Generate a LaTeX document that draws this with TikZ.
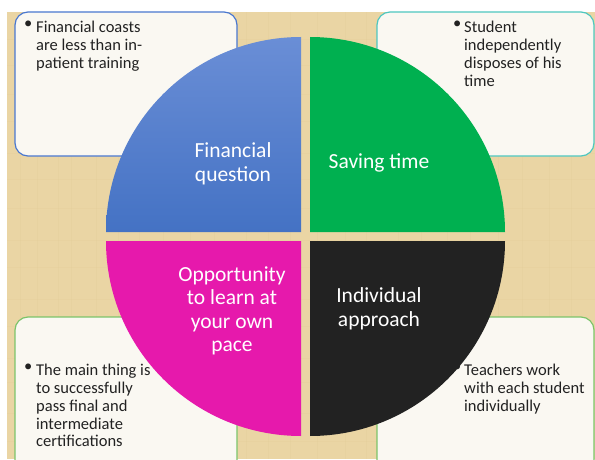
\documentclass[tikz,border=0pt]{standalone}
\usepackage{fontspec}
\setmainfont{Carlito}
\definecolor{papyrus}{HTML}{EAD5A4}
\definecolor{papyrusdark}{HTML}{D9BF86}
\definecolor{boxfill}{HTML}{FAF8F2}
\definecolor{qblue}{HTML}{4472C4}
\definecolor{qbluelight}{HTML}{6A8ED6}
\definecolor{qgreen}{HTML}{00B050}
\definecolor{qmag}{HTML}{E619AC}
\definecolor{qblack}{HTML}{222222}
\definecolor{bblue}{HTML}{4A78D0}
\definecolor{bteal}{HTML}{4EC7C0}
\definecolor{bgreen}{HTML}{7CC46A}
\definecolor{txt}{HTML}{222222}
\tikzset{
  x=1pt,y=1pt,
  infobox/.style={fill=boxfill,line width=1.2pt,rounded corners=13pt},
  quadtext/.style={text=white,font=\fontsize{21.5}{23.5}\selectfont,align=center,inner sep=0pt},
  bultext/.style={text=txt,font=\fontsize{16.5}{17.8}\selectfont,align=left,inner sep=0pt,anchor=north west},
  bulmark/.style={text=txt,font=\fontsize{16.5}{17.8}\selectfont,inner sep=0pt,anchor=north west},
}
\begin{document}
\begin{tikzpicture}
\useasboundingbox (0,0) rectangle (595,459);
\clip (0,0) rectangle (595,459);
% background
\fill[white] (0,0) rectangle (595,459);
\fill[papyrus] (7,0) rectangle (595,447);
\foreach \xx in {20,37,58,71,96,118,139,163,190,214,246,268,290,317,345,366,398,421,447,470,498,522,549,571}
  \draw[papyrusdark,opacity=0.12,line width=0.8pt] (\xx,0) -- (\xx,447);
\foreach \yy in {18,46,77,101,133,160,192,219,251,280,306,338,365,394,420}
  \draw[papyrusdark,opacity=0.1,line width=0.8pt] (7,\yy) -- (595,\yy);
% info boxes
\draw[infobox,draw=bblue] (15,303) rectangle (237,447);
\draw[infobox,draw=bteal] (377,303) rectangle (594,447);
\draw[infobox,draw=bgreen] (15,-20) rectangle (237,142);
\draw[infobox,draw=bgreen] (377,-20) rectangle (594,142);
% quadrants
\shade[top color=qbluelight,bottom color=qblue] (301,227) -- (106,227) arc[start angle=180,end angle=90,radius=195] -- cycle;
\fill[qgreen] (310,227) -- (310,422) arc[start angle=90,end angle=0,radius=195] -- cycle;
\fill[qmag] (301,218) -- (106,218) arc[start angle=180,end angle=270,radius=195] -- cycle;
\fill[qblack] (310,218) -- (505,218) arc[start angle=0,end angle=-90,radius=195] -- cycle;
% quadrant labels
\node[quadtext] (q1) at (233,295) {Financial\\question};
\node[quadtext] (q2) at (379,296) {Saving time};
\node[quadtext] (q3) at (232,148) {Opportunity\\to learn at\\your own\\pace};
\node[quadtext] (q4) at (379,150) {Individual\\approach};
% bullet texts
\node[bulmark] (m1) at (24,438) {\textbullet};
\node[bultext] (t1) at (36,438) {Financial coasts\\are less than in-\\patient training};
\node[bulmark] (m2) at (453,438) {\textbullet};
\node[bultext] (t2) at (464,438) {Student\\independently\\disposes of his\\time};
\node[bulmark] (m3) at (24,95) {\textbullet};
\node[bultext] (t3) at (36,95) {The main thing is\\to successfully\\pass final and\\intermediate\\certifications};
\node[bulmark] (m4) at (453,95) {\textbullet};
\node[bultext] (t4) at (464,95) {Teachers work\\with each student\\individually};
\end{tikzpicture}
\end{document}
